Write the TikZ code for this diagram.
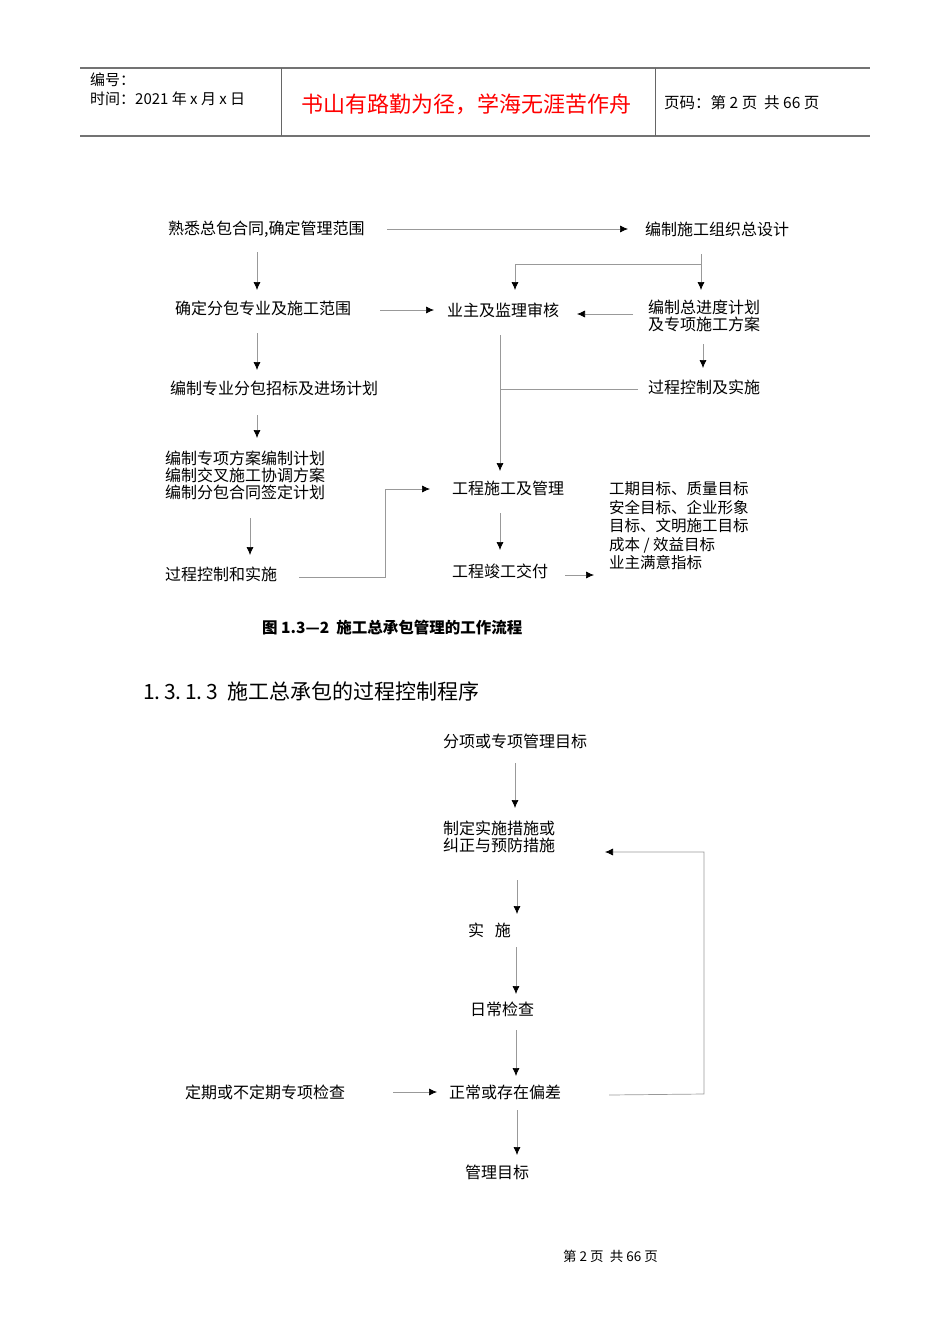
\documentclass[tikz,border=0pt]{standalone}
\usepackage{fontspec}
\setmainfont{Noto Sans CJK SC}
\usetikzlibrary{arrows.meta}
\begin{document}
\begin{tikzpicture}[x=1pt,y=-1pt,
  txt/.style={anchor=west,inner sep=0,font=\fontsize{16}{18}\selectfont\addfontfeatures{}},
  ml/.style={txt,align=left},
  ln/.style={draw=black!40,line width=0.7pt},
  ar/.style={ln,-{Latex[length=8pt,width=7pt,black]}},
  hd/.style={draw=black!55,line width=1.3pt}]
\useasboundingbox[fill=white] (0,0) rectangle (950,1344);
% header
\draw[hd] (80,68) -- (870,68);
\draw[hd] (80,136) -- (870,136);
\draw[ln,draw=black!60,line width=1pt] (281,68) -- (281,136) (655,68) -- (655,136);
\node[txt,font=\fontsize{15}{18}\selectfont] (h1) at (90,80) {编号：};
\node[txt,font=\fontsize{15}{18}\selectfont] (h2) at (90,99) {时间：2021 年 x 月 x 日};
\node[txt,text=red,font=\fontsize{22}{24}\selectfont] (h3) at (301,104) {书山有路勤为径，学海无涯苦作舟};
\node[txt,font=\fontsize{15.5}{18}\selectfont] (h4) at (664,103) {页码：第 2 页\ \ 共 66 页};
% chart 1
\node[txt] (A) at (168,229) {熟悉总包合同,确定管理范围};
\node[txt] (B) at (645,229) {编制施工组织总设计};
\node[txt] (C) at (175,308) {确定分包专业及施工范围};
\node[txt] (D) at (447,310) {业主及监理审核};
\node[ml] (E) at (648,316) {编制总进度计划\\[-1pt]及专项施工方案};
\node[txt] (F) at (170,388) {编制专业分包招标及进场计划};
\node[txt] (G) at (648,387) {过程控制及实施};
\node[ml] (H) at (165,475) {编制专项方案编制计划\\[-1pt]编制交叉施工协调方案\\[-1pt]编制分包合同签定计划};
\node[txt] (I) at (452,488) {工程施工及管理};
\node[txt] (J) at (165,574) {过程控制和实施};
\node[txt] (K) at (452,571) {工程竣工交付};
\node[ml,font=\fontsize{15.5}{18.5}\selectfont] (L) at (609,526) {工期目标、质量目标\\安全目标、企业形象\\目标、文明施工目标\\成本 / 效益目标\\业主满意指标};
\draw[ar] (387,229) -- (628,229);
\draw[ar] (257,252) -- (257,290);
\draw[ar] (701,254) -- (701,290);
\draw[ar] (701,264) -- (515,264) -- (515,290);
\draw[ar] (380,310) -- (434,310);
\draw[ar] (633,314) -- (577,314);
\draw[ar] (257,333) -- (257,370);
\draw[ar] (703,344) -- (703,368);
\draw[ar] (500,335) -- (500,471);
\draw[ln] (638,389) -- (500,389);
\draw[ar] (257,415) -- (257,438);
\draw[ar] (250,518) -- (250,555);
\draw[ar] (299,577) -- (385,577) -- (385,489) -- (430,489);
\draw[ar] (500,513) -- (500,550);
\draw[ar] (565,575) -- (594,575);
\node[txt,font=\fontsize{15.5}{18}\selectfont\bfseries] (cap) at (262,628) {图 1.3—2\ \ 施工总承包管理的工作流程};
\node[txt,font=\fontsize{21}{22}\selectfont] (sec) at (143,691) {1.\,3.\,1.\,3\ \ 施工总承包的过程控制程序};
% chart 2
\node[txt] (M) at (443,741) {分项或专项管理目标};
\node[ml] (N) at (443,837) {制定实施措施或\\[-1pt]纠正与预防措施};
\node[txt] (O) at (468,930) {实\ \ \ 施};
\node[txt] (P) at (470,1009) {日常检查};
\node[txt] (Q) at (449,1092) {正常或存在偏差};
\node[txt] (R) at (185,1092) {定期或不定期专项检查};
\node[txt] (S) at (465,1172) {管理目标};
\draw[ar] (515,763) -- (515,808);
\draw[ar] (517,880) -- (517,914);
\draw[ar] (516,947) -- (516,994);
\draw[ar] (516,1030) -- (516,1076);
\draw[ar] (393,1092) -- (437,1092);
\draw[ar] (609,1095) -- (704,1094) -- (704,852) -- (605,852);
\draw[ar] (517,1110) -- (517,1155);
\node[txt,font=\fontsize{13.5}{15}\selectfont] (foot) at (563,1256) {第\ 2\ 页\ \ 共\ 66\ 页};
\end{tikzpicture}
\end{document}
